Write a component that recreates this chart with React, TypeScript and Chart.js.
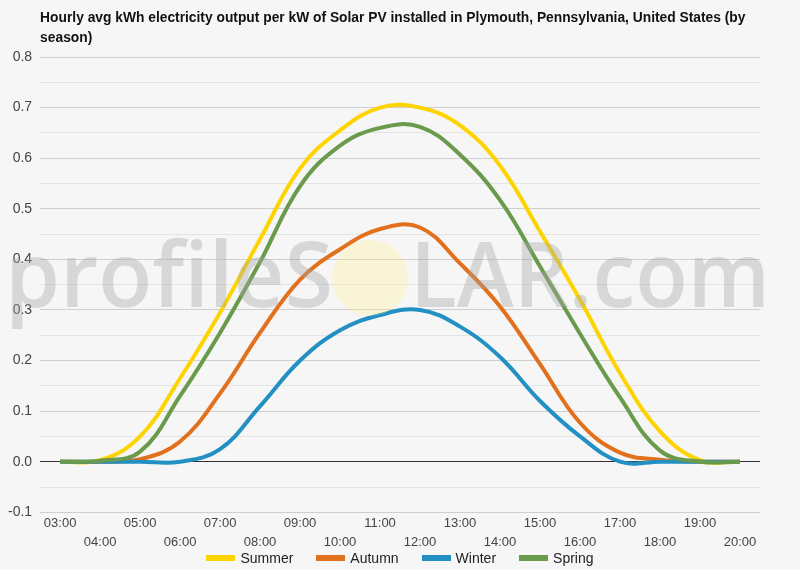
import React, { useEffect, useRef } from 'react';
import { Chart, registerables } from 'chart.js';

Chart.register(...registerables);

// hourly labels, 03:00 .. 20:00
const hours = [
  '03:00', '04:00', '05:00', '06:00', '07:00', '08:00', '09:00', '10:00', '11:00',
  '12:00', '13:00', '14:00', '15:00', '16:00', '17:00', '18:00', '19:00', '20:00',
];

// kWh per kW
const summer = [0, 0.003, 0.05, 0.165, 0.295, 0.44, 0.58, 0.655, 0.7, 0.7, 0.665, 0.585, 0.455, 0.32, 0.175, 0.06, 0.003, 0];
const autumn = [0, 0, 0.005, 0.04, 0.135, 0.255, 0.36, 0.42, 0.46, 0.463, 0.392, 0.307, 0.193, 0.077, 0.018, 0.004, 0, 0];
const winter = [0, 0, 0, 0, 0.025, 0.11, 0.2, 0.26, 0.29, 0.3, 0.267, 0.207, 0.12, 0.05, 0, 0, 0, 0];
const spring = [0, 0.002, 0.02, 0.13, 0.255, 0.395, 0.545, 0.625, 0.66, 0.662, 0.607, 0.517, 0.386, 0.253, 0.127, 0.022, 0, 0];

const seasonNames = ['Summer', 'Autumn', 'Winter', 'Spring'];
const seasonColors = ['#fdd400', '#e2711d', '#2390c3', '#6a9a4c'];

const titleLines = [
  'Hourly avg kWh electricity output per kW of Solar PV installed in Plymouth, Pennsylvania, United States (by',
  'season)',
];

// faint site logo drawn across the plot
const watermarkPlugin = {
  id: 'watermark',
  afterDatasetsDraw(chart: Chart) {
    const ctx = chart.ctx;
    const fitText = (text: string, left: number, right: number, baseline: number) => {
      ctx.save();
      ctx.font = '600 90px "Open Sans", sans-serif';
      const w = ctx.measureText(text).width;
      ctx.translate(left, baseline);
      ctx.scale((right - left) / w, 1);
      ctx.fillStyle = 'rgba(165, 165, 165, 0.38)';
      ctx.textBaseline = 'alphabetic';
      ctx.fillText(text, 0, 0);
      ctx.restore();
    };
    fitText('profileS', 5, 333, 307);
    ctx.save();
    ctx.beginPath();
    ctx.arc(370, 278, 38, 0, Math.PI * 2);
    ctx.fillStyle = 'rgba(255, 238, 140, 0.3)';
    ctx.fill();
    ctx.restore();
    fitText('LAR.com', 410, 770, 307);
  },
};

const App: React.FC = () => {
  const canvasRef = useRef<HTMLCanvasElement>(null);

  useEffect(() => {
    if (!canvasRef.current) return;
    Chart.defaults.font.family = 'Arial, "Liberation Sans", sans-serif';

    const series = [summer, autumn, winter, spring];
    const chart = new Chart(canvasRef.current, {
      type: 'line',
      data: {
        labels: hours,
        datasets: series.map((values, i) => ({
          label: seasonNames[i],
          data: values,
          borderColor: seasonColors[i],
          backgroundColor: seasonColors[i],
          borderWidth: 4,
          pointRadius: 0,
          tension: 0.4,
          order: series.length - i,
        })),
      },
      options: {
        animation: false,
        responsive: false,
        layout: { padding: { left: 0, right: 40, top: 0, bottom: 16 } },
        plugins: {
          title: {
            display: true,
            text: titleLines,
            align: 'start',
            fullSize: false,
            color: '#111',
            font: { size: 13.8, weight: 'bold', lineHeight: 1.45 },
            padding: { top: 8, bottom: 9 },
          },
          legend: { display: false },
          tooltip: { enabled: false },
        },
        scales: {
          x: {
            offset: true,
            grid: { display: false, drawTicks: false },
            border: { display: false },
            ticks: {
              autoSkip: false,
              maxRotation: 0,
              color: '#444',
              font: { size: 13, lineHeight: 1.45 },
              padding: 2,
              callback: (_v, i) => (i % 2 === 0 ? hours[i] : ['', hours[i]]),
            },
          },
          y: {
            min: -0.1,
            max: 0.8,
            border: { display: false },
            grid: {
              drawTicks: false,
              color: (c) => {
                const v = Math.round(c.tick.value * 100);
                if (v === 0) return '#333';
                return v % 10 === 0 ? '#cfcfcf' : '#e4e4e4';
              },
            },
            ticks: {
              stepSize: 0.05,
              color: '#444',
              font: { size: 14 },
              padding: 8,
              callback: (v) => {
                const n = Math.round(Number(v) * 100);
                return n % 10 === 0 ? (n / 100).toFixed(1) : '';
              },
            },
          },
        },
      },
      plugins: [watermarkPlugin],
    });

    return () => {
      chart.destroy();
    };
  }, []);

  return (
    <div style={{ position: 'fixed', left: 0, top: 0, width: 800, height: 570, background: '#f6f6f6' }}>
      <canvas ref={canvasRef} width={800} height={570} style={{ display: 'block' }} />
      <div
        style={{
          position: 'absolute',
          left: 0,
          top: 550,
          width: 800,
          display: 'flex',
          justifyContent: 'center',
          gap: 23,
          font: '14px Arial, "Liberation Sans", sans-serif',
          lineHeight: '16px',
          color: '#222',
        }}
      >
        {seasonNames.map((name, i) => (
          <div key={name} style={{ display: 'flex', alignItems: 'center' }}>
            <span style={{ width: 29, height: 6, background: seasonColors[i], marginRight: 5 }} />
            <span>{name}</span>
          </div>
        ))}
      </div>
    </div>
  );
};

export default App;
